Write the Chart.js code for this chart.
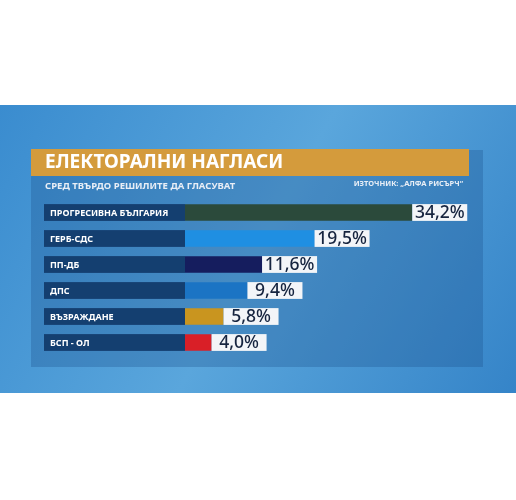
<!DOCTYPE html>
<html><head><meta charset="utf-8">
<script src="https://cdn.jsdelivr.net/npm/chart.js@4"></script>
<style>html,body{margin:0;padding:0;background:#fff;}#w{position:relative;width:516px;height:500px;}</style>
</head><body><div id="w"><canvas id="c" width="516" height="500"></canvas></div>
<script>
const categories = ["ПРОГРЕСИВНА БЪЛГАРИЯ","ГЕРБ-СДС","ПП-ДБ","ДПС","ВЪЗРАЖДАНЕ","БСП - ОЛ"];
const values = [34.2,19.5,11.6,9.4,5.8,4.0];
const valueLabels = ["34,2%","19,5%","11,6%","9,4%","5,8%","4,0%"];
const colors = ["#2b4a3b","#1f8fe2","#151d5e","#1b74c4","#c9951f","#d91f27"];
const title = "ЕЛЕКТОРАЛНИ НАГЛАСИ";
const subtitle = "СРЕД ТВЪРДО РЕШИЛИТЕ ДА ГЛАСУВАТ";
const source = "ИЗТОЧНИК: „АЛФА РИСЪРЧ“";
const F = '"Noto Sans", "DejaVu Sans", sans-serif';

const deco = {
  id:'deco',
  beforeDraw(ch){
    const c=ch.ctx;
    c.save();
    const g=c.createLinearGradient(0,105,516,393);
    g.addColorStop(0,'#3a8ccf');g.addColorStop(0.5,'#5aa6dc');g.addColorStop(1,'#3584c8');
    c.fillStyle=g;c.fillRect(0,105,516,288);
    c.fillStyle='rgba(25,80,140,0.3)';c.fillRect(31,150,452,217);
    c.fillStyle='#d49b3c';c.fillRect(31,149,438,27);
    c.fillStyle='#fff';c.font='bold 19px '+F;c.textBaseline='middle';c.textAlign='left';
    c.fillText(title,45,163);
    c.font='bold 9.5px '+F;c.fillStyle='#e8eef6';c.fillText(subtitle,45,186);
    c.font='bold 7.5px '+F;c.textAlign='right';c.fillText(source,463,184);
    const y=ch.scales.y;
    categories.forEach((n,i)=>{
      const yc=y.getPixelForValue(i);
      c.fillStyle='#143f70';c.fillRect(44,yc-8.4,141,16.8);
      c.fillStyle='#fff';c.font='bold 9px '+F;c.textAlign='left';
      c.fillText(n,50,yc+0.5);
    });
    c.restore();
  },
  afterDatasetsDraw(ch){
    const c=ch.ctx,x=ch.scales.x,y=ch.scales.y;
    c.save();
    values.forEach((v,i)=>{
      const xe=x.getPixelForValue(v),yc=y.getPixelForValue(i);
      c.fillStyle='#f3f5f8';c.fillRect(xe,yc-8.4,55,16.8);
      c.fillStyle='#16243f';c.font='500 17.5px '+F;c.textAlign='center';c.textBaseline='middle';
      c.fillText(valueLabels[i],xe+27.5,yc+1);
    });
    c.restore();
  }
};

new Chart(document.getElementById('c'),{
  type:'bar',
  data:{labels:categories,datasets:[{data:values,backgroundColor:colors,borderWidth:0,barPercentage:0.64,categoryPercentage:1}]},
  options:{
    indexAxis:'y',responsive:false,animation:false,
    layout:{padding:{left:185,right:32,top:199.5,bottom:144.5}},
    plugins:{legend:{display:false},tooltip:{enabled:false}},
    scales:{
      x:{min:0,max:45,display:false},
      y:{display:false}
    }
  },
  plugins:[deco]
});
</script></body></html>
